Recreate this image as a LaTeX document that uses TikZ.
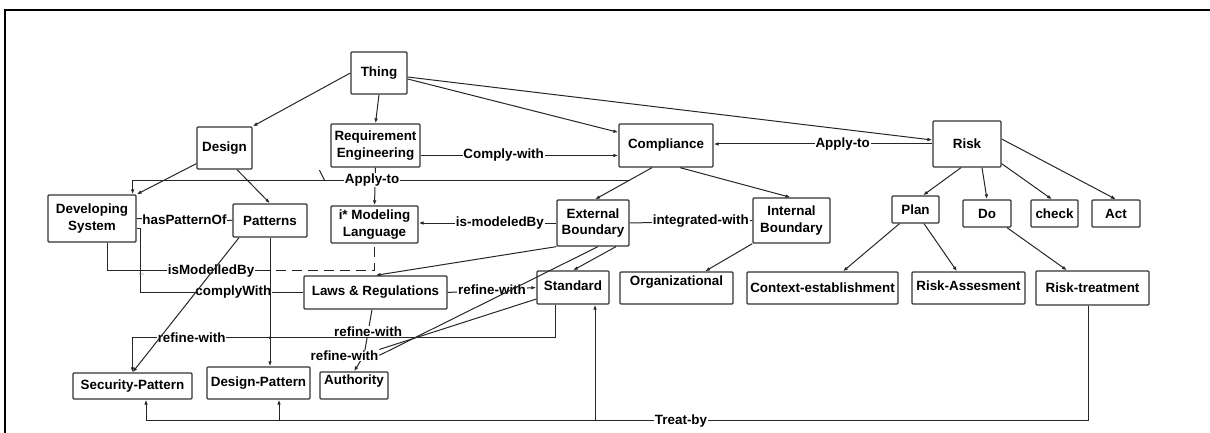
\documentclass[tikz,border=0pt]{standalone}
\usepackage{fontspec}
\setmainfont{Liberation Sans}
\usetikzlibrary{arrows.meta,calc}
\newcommand\dgfont{\fontsize{13.4}{16.5}\selectfont\bfseries}
\begin{document}
\begin{tikzpicture}[x=1pt,y=-1pt,
  box/.style={draw=black!80, line width=1.3pt, rounded corners=1pt, inner sep=0pt, align=center, font=\dgfont},
  con/.style={draw=black!85, line width=1pt},
  arr/.style={con, -{Latex[length=5pt,width=3.6pt]}},
  dsh/.style={con, dash pattern=on 10pt off 6pt},
  lab/.style={fill=white, inner sep=0.8pt, font=\dgfont}]
\useasboundingbox (0,0) rectangle (1210,433);
% frame
\coordinate (f1) at (5,433); \coordinate (f2) at (5,10); \coordinate (f3) at (1210,10);
\draw[line width=1.5pt] (f1) -- (f2) -- (f3);
% nodes
\node[box, minimum width=56pt, minimum height=42pt] (thing) at (379,73) {Thing};
\node[box, minimum width=55pt, minimum height=42pt] (design) at (224.5,148) {Design};
\node[box, minimum width=89pt, minimum height=43pt] (reqeng) at (375.5,145.5) {Requirement\\Engineering};
\node[box, minimum width=94pt, minimum height=43pt] (compliance) at (666,145.5) {Compliance};
\node[box, minimum width=68pt, minimum height=46pt] (risk) at (967,144) {Risk};
\node[box, minimum width=88pt, minimum height=47pt] (devsys) at (92,218.5) {Developing\\System};
\node[box, minimum width=74pt, minimum height=33pt] (patterns) at (270,220.5) {Patterns};
\node[box, minimum width=87pt, minimum height=37pt] (imodel) at (374.5,224.5) {i* Modeling\\Language};
\node[box, minimum width=72pt, minimum height=46pt] (extb) at (593,223) {External\\Boundary};
\node[box, minimum width=77pt, minimum height=45pt] (intb) at (791.5,220.5) {Internal\\Boundary};
\node[box, minimum width=47pt, minimum height=27pt] (plan) at (915.5,209.5) {Plan};
\node[box, minimum width=48pt, minimum height=27pt] (do) at (987,213.5) {Do};
\node[box, minimum width=47pt, minimum height=27pt] (check) at (1054.5,213.5) {check};
\node[box, minimum width=48pt, minimum height=27pt] (act) at (1116,213.5) {Act};
\node[box, minimum width=143pt, minimum height=33pt] (laws) at (375.5,292.5) {Laws \& Regulations};
\node[box, minimum width=72pt, minimum height=33pt, text height=10pt, text depth=5pt] (standard) at (573,287.5) {Standard};
\node[box, minimum width=113pt, minimum height=32pt, text height=10pt, text depth=16pt] (organiz) at (676.5,288) {Organizational};
\node[box, minimum width=151pt, minimum height=32pt] (context) at (822.5,288) {Context-establishment};
\node[box, minimum width=113pt, minimum height=32pt, text height=10pt, text depth=6pt] (riskass) at (968.5,288) {Risk-Assesment};
\node[box, minimum width=113pt, minimum height=34pt] (risktreat) at (1092.5,288) {Risk-treatment};
\node[box, minimum width=119pt, minimum height=26pt] (secpat) at (132.5,386) {Security-Pattern};
\node[box, minimum width=103pt, minimum height=32pt] (despat) at (258.5,383) {Design-Pattern};
\node[box, minimum width=68pt, minimum height=27pt, text height=10pt, text depth=11.4pt] (authority) at (354,385.5) {Authority};
% Thing
\draw[arr] (thing.west) -- (design.north east);
\draw[arr] (thing.south) -- (reqeng.north);
\draw[arr] ([yshift=-6pt]thing.east) -- ([yshift=-9pt]compliance.north west);
\draw[arr] ([yshift=-4pt]thing.east) -- ([yshift=4pt]risk.west);
% Design
\draw[arr] ([yshift=6pt]design.south west) -- (devsys.north east);
\draw[arr] ([xshift=12.5pt]design.south) -- (patterns.north);
% Requirement Engineering
\draw[arr] (reqeng.south) -- (imodel.north);
\draw[arr] ([yshift=-10pt]reqeng.east) -- node[lab,pos=0.42]{Comply-with} ([yshift=-10pt]reqeng.east -| compliance.west);
% Risk -> Compliance
\draw[arr] (risk.west) -- node[lab,pos=0.41]{Apply-to} (risk.west -| compliance.east);
% Compliance children
\draw[arr] ([xshift=-14pt]compliance.south) -- coordinate[pos=0.394](ap) ([xshift=2pt]extb.north);
\draw[arr] ([xshift=14pt]compliance.south) -- ([xshift=-1pt]intb.north);
% Apply-to long
\coordinate (dsx) at ([xshift=-4pt]devsys.north east);
\draw[arr] (ap) -- node[lab,pos=0.518]{Apply-to} (ap -| dsx) -- (dsx);
\path (ap) -- (ap -| dsx) coordinate[pos=0.614](tick);
\draw[con] (tick) -- ++(-5,-10);
% is-modeledBy, integrated-with, hasPatternOf
\draw[arr] (extb.west) -- node[lab,pos=0.41]{is-modeledBy} (extb.west -| imodel.east);
\draw[con] (extb.east) -- node[lab,pos=0.58]{integrated-with} (intb.west);
\draw[con] (devsys.east) -- node[lab]{hasPatternOf} (patterns.west);
% complyWith
\coordinate (cw0) at ([yshift=-10pt]devsys.east);
\draw[con] (cw0) -- ++(4,0) coordinate (cw1) -- (cw1 |- laws.west) -- node[lab,pos=0.57]{complyWith} (laws.west);
% isModelledBy
\coordinate (imb) at ([xshift=15pt]devsys.south);
\coordinate (imbY) at ([yshift=-27pt]imodel.south);
\coordinate (imbend) at ([xshift=-114.5pt]imbY);
\draw[con] (imb) -- (imb |- imbY) -- node[lab,pos=0.68]{isModelledBy} (imbend);
\draw[dsh] (imbend) -- (imbY) -- (imodel.south);
\node[font=\fontsize{3}{3}\selectfont, text=black!50, inner sep=0pt] (tinytext) at (141,274) {Text};
% External boundary
\draw[arr] (extb.south west) -- (laws.north);
\draw[arr] ([xshift=23pt]extb.south) -- (standard.north);
\draw[arr] (laws.east) -- node[lab]{refine-with} (standard.west);
% Laws -> Authority
\coordinate (rwc) at ([shift={(10pt,16pt)}]authority.north);
\draw[arr] ([xshift=-3.5pt]laws.south) -- node[lab,pos=0.49]{refine-with} (rwc) -- (authority.north);
\node[lab] (rwl2) at ([xshift=-19.5pt]rwc) {refine-with};
\draw[con] ([xshift=5pt]extb.south) -- (rwl2.east);
\draw[con] ([yshift=-11.5pt]standard.west) -- (rwl2.north east);
% Standard -> Security-Pattern
\coordinate (rs0) at ([xshift=-18pt]standard.south);
\coordinate (rs1) at ([yshift=-33pt]rs0);
\draw[arr] (rs0) -- (rs1) -| node[lab,pos=0.43]{refine-with} (secpat.north);
% Patterns
\draw[arr] (patterns.south) -- (patterns.south |- despat.north);
\fill[black!85] (patterns.south |- rs1) circle (1.4pt);
\draw[arr] ([xshift=-31pt]patterns.south) -- (secpat.north);
% Treat-by
\coordinate (tb0) at ([xshift=-4.5pt]risktreat.south);
\coordinate (tbY) at ([yshift=-115pt]risktreat.south);
\coordinate (spB) at ([xshift=13.5pt]secpat.south);
\draw[arr] (tb0) -- (tb0 |- tbY) -- node[lab,pos=0.432]{Treat-by} (spB |- tbY) -- (spB);
\coordinate (stB) at ([xshift=22pt]standard.south);
\draw[arr] (stB |- tbY) -- (stB);
\coordinate (dpB) at ([xshift=20.5pt]despat.south);
\draw[arr] (dpB |- tbY) -- (dpB);
% Internal -> Organizational
\draw[arr] (intb.south west) -- ([xshift=28.5pt]organiz.north);
% Risk children
\draw[arr] ([xshift=-6pt]risk.south) -- ([xshift=7.5pt]plan.north);
\draw[arr] ([xshift=15pt]risk.south) -- (do.north);
\draw[arr] ([yshift=4pt]risk.south east) -- ([xshift=-2.5pt]check.north);
\draw[arr] ([yshift=5pt]risk.east) -- (act.north);
% Plan, Do children
\draw[arr] ([xshift=-16pt]plan.south) -- ([xshift=20.5pt]context.north);
\draw[arr] ([xshift=8.5pt]plan.south) -- ([xshift=-11.5pt]riskass.north);
\draw[arr] ([xshift=20pt]do.south) -- ([xshift=-25.5pt]risktreat.north);
\end{tikzpicture}
\end{document}
